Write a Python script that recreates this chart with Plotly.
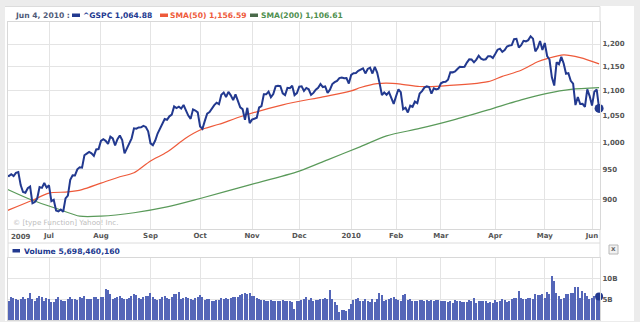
import pandas as pd
import plotly.graph_objects as go

W, H = 640, 322

# ---------------------------------------------------------------- data
market_holidays = ["2009-07-03", "2009-09-07", "2009-11-26", "2009-12-25",
                   "2010-01-01", "2010-01-18", "2010-02-15", "2010-04-02",
                   "2010-05-31"]
sessions = pd.bdate_range("2009-06-04", "2010-06-04")
sessions = sessions[~sessions.isin(pd.to_datetime(market_holidays))]

close_2009_06 = [942.46, 940.09, 939.14, 942.43, 939.15, 944.89, 946.21, 923.72, 911.97, 910.71,
                 918.37, 921.23, 893.04, 895.10, 900.94, 920.26, 918.90, 927.23, 919.32]
close_2009_07 = [923.33, 896.42, 898.72, 881.03, 879.56, 882.68, 879.13, 901.05, 905.84, 932.68,
                 940.74, 940.38, 951.13, 954.58, 954.07, 976.29, 979.26, 982.18, 979.62, 975.15,
                 986.75, 987.48]
close_2009_08 = [1002.63, 1005.65, 1002.72, 997.08, 1010.48, 1007.10, 994.35, 1005.81, 1012.73,
                 1004.09, 979.73, 989.67, 996.46, 1007.37, 1026.13, 1025.57, 1028.00, 1028.12,
                 1030.98, 1028.93, 1020.62]
close_2009_09 = [998.04, 994.75, 1003.24, 1016.40, 1025.39, 1033.37, 1044.14, 1042.73, 1049.34,
                 1052.63, 1068.76, 1065.49, 1068.30, 1064.66, 1071.66, 1060.87, 1050.78, 1044.38,
                 1062.98, 1060.61, 1057.08]
close_2009_10 = [1029.85, 1025.21, 1040.46, 1054.72, 1057.58, 1065.48, 1071.49, 1076.19, 1073.19,
                 1092.02, 1096.56, 1087.68, 1097.91, 1091.06, 1081.40, 1092.91, 1079.60, 1066.95,
                 1063.41, 1042.63, 1066.11, 1036.19]
close_2009_11 = [1042.88, 1045.41, 1046.50, 1066.63, 1069.30, 1093.08, 1093.01, 1098.51, 1087.24,
                 1093.48, 1109.30, 1110.32, 1109.80, 1094.90, 1091.38, 1106.24, 1105.65, 1110.63,
                 1091.49, 1095.63]
close_2009_12 = [1108.86, 1109.24, 1099.92, 1105.98, 1103.25, 1091.94, 1095.95, 1102.35, 1106.41,
                 1114.11, 1107.93, 1109.18, 1096.08, 1102.47, 1114.05, 1118.02, 1120.59, 1126.48,
                 1127.78, 1126.20, 1126.42, 1115.10]
close_2010_01 = [1132.99, 1136.52, 1137.14, 1141.69, 1144.98, 1146.98, 1136.22, 1145.68, 1148.46,
                 1136.03, 1150.23, 1138.04, 1116.48, 1091.76, 1096.78, 1092.17, 1097.50, 1084.53,
                 1073.87]
close_2010_02 = [1089.19, 1103.32, 1097.28, 1063.11, 1066.19, 1056.74, 1070.52, 1068.13, 1078.47,
                 1075.51, 1094.87, 1099.51, 1106.75, 1109.17, 1108.01, 1094.60, 1105.24, 1102.94,
                 1104.49]
close_2010_03 = [1115.71, 1118.31, 1118.79, 1122.97, 1138.70, 1138.50, 1140.45, 1145.61, 1150.24,
                 1149.99, 1150.51, 1159.46, 1166.21, 1165.83, 1159.90, 1165.81, 1174.17, 1167.72,
                 1165.73, 1166.59, 1173.22, 1173.27, 1169.43]
close_2010_04 = [1178.10, 1187.44, 1189.44, 1182.45, 1186.44, 1194.37, 1196.48, 1197.30, 1210.65,
                 1211.67, 1192.13, 1197.52, 1207.17, 1205.94, 1208.67, 1217.28, 1212.05, 1183.71,
                 1191.36, 1206.78, 1186.69]
close_2010_05 = [1202.26, 1173.60, 1165.90, 1128.15, 1110.88, 1159.73, 1155.79, 1171.67, 1157.44,
                 1135.68, 1136.94, 1120.80, 1115.05, 1071.59, 1087.69, 1073.65, 1074.03, 1067.95,
                 1103.06, 1089.41]
close_2010_06 = [1070.71, 1098.38, 1102.83, 1064.88]

# daily volume, billions of shares
vol_2009_06 = [5.4, 4.9, 4.5, 5.6, 5.3, 5.1, 4.8, 5.2, 5.6, 5.0, 5.4, 6.5, 5.0, 4.6, 5.4, 5.9, 5.5, 4.6, 5.3]
vol_2009_07 = [5.0, 4.3, 4.4, 5.2, 5.6, 4.8, 4.7, 4.6, 5.0, 5.5, 5.1, 5.0, 4.9, 5.5, 5.4, 5.8, 5.1,
               5.0, 5.2, 5.6, 5.5, 5.1]
vol_2009_08 = [5.6, 5.6, 7.6, 7.3, 6.4, 5.1, 5.3, 5.6, 5.9, 5.3, 5.2, 5.0, 5.4, 5.7, 6.2, 6.0, 5.3,
               5.2, 5.5, 5.9, 5.8]
vol_2009_09 = [6.5, 5.5, 5.2, 4.9, 5.2, 5.6, 5.8, 5.3, 5.0, 5.6, 6.4, 6.2, 6.8, 5.2, 5.4, 5.6, 5.3,
               5.0, 4.8, 5.3, 5.6]
vol_2009_10 = [6.0, 5.6, 4.9, 5.1, 5.0, 4.7, 4.6, 4.9, 4.8, 5.3, 5.2, 5.4, 5.0, 5.3, 5.6, 5.5, 5.6,
               6.1, 6.3, 6.6, 6.4, 6.5]
vol_2009_11 = [5.8, 5.8, 5.4, 5.2, 4.9, 4.8, 4.7, 4.6, 4.8, 4.5, 4.7, 4.6, 4.7, 4.9, 4.6, 4.5, 4.6,
               4.3, 2.7, 4.5]
vol_2009_12 = [4.6, 4.9, 5.2, 5.6, 4.8, 5.4, 4.6, 4.8, 4.9, 5.0, 5.2, 5.4, 5.1, 7.2, 5.0, 4.4, 3.6,
               2.0, 2.3, 2.4, 2.1, 2.6]
vol_2010_01 = [3.9, 4.9, 5.0, 5.3, 4.6, 4.6, 5.0, 4.5, 4.3, 5.0, 4.3, 5.2, 6.6, 6.0, 4.6, 4.8, 5.1,
               5.4, 5.5]
vol_2010_02 = [5.1, 4.8, 4.7, 6.0, 6.3, 4.8, 5.0, 4.6, 4.7, 4.5, 4.9, 4.8, 4.6, 4.8, 4.5, 4.8, 4.6,
               4.8, 4.9]
vol_2010_03 = [4.6, 4.6, 4.5, 4.4, 4.6, 4.1, 4.9, 4.6, 4.5, 4.3, 4.3, 4.4, 4.8, 4.6, 5.4, 4.2, 4.6,
               4.7, 4.6, 4.7, 4.2, 4.3, 4.2]
vol_2010_04 = [4.9, 4.3, 4.7, 5.0, 4.8, 4.4, 4.7, 5.0, 5.4, 5.4, 7.1, 5.4, 5.1, 5.1, 5.4, 5.3, 5.0,
               6.2, 6.1, 6.0, 6.3]
vol_2010_05 = [5.4, 6.8, 6.4, 10.6, 9.4, 6.6, 5.8, 5.2, 5.3, 6.2, 6.4, 6.6, 6.6, 8.0, 8.1, 5.4, 7.0,
               6.5, 5.9, 5.0]
vol_2010_06 = [5.3, 5.9, 5.8, 5.69846016]

# moving averages, sampled by session date
sma50_dates = ["2009-06-04", "2009-06-22", "2009-07-01", "2009-07-14", "2009-07-22", "2009-08-03",
               "2009-08-13", "2009-08-21", "2009-09-01", "2009-09-11", "2009-09-23", "2009-10-01",
               "2009-10-13", "2009-10-27", "2009-11-19", "2009-12-15", "2010-01-04", "2010-01-08",
               "2010-01-20", "2010-01-26", "2010-02-03", "2010-02-16", "2010-03-01", "2010-03-29",
               "2010-04-07", "2010-04-19", "2010-04-28", "2010-05-04", "2010-05-13", "2010-05-24",
               "2010-06-04"]
sma50_vals = [879, 898, 910, 912, 916, 927, 938, 945, 966, 982, 1008, 1023, 1034, 1050, 1072, 1088,
              1100, 1107, 1115, 1116, 1114, 1109, 1110, 1119, 1130, 1143, 1161, 1168, 1176, 1170,
              1156.59]
sma200_dates = ["2009-06-04", "2009-06-22", "2009-07-09", "2009-07-21", "2009-08-03", "2009-08-21",
                "2009-09-11", "2009-10-01", "2009-10-30", "2009-12-01", "2009-12-17", "2010-01-08",
                "2010-01-26", "2010-02-16", "2010-03-08", "2010-03-29", "2010-04-19", "2010-05-04",
                "2010-05-18", "2010-06-04"]
sma200_vals = [919, 898, 882, 872, 872, 877.5, 887, 901, 924, 948, 968, 992, 1012, 1026, 1042, 1062,
               1082, 1095, 1103, 1106.61]

price_ticks = [900, 950, 1000, 1050, 1100, 1150, 1200]
price_tick_text = ["900", "950", "1,000", "1,050", "1,100", "1,150", "1,200"]
month_text = ["Jul", "Aug", "Sep", "Oct", "Nov", "Dec", "2010", "Feb", "Mar", "Apr", "May", "Jun"]

closes = (close_2009_06 + close_2009_07 + close_2009_08 + close_2009_09 + close_2009_10 +
          close_2009_11 + close_2009_12 + close_2010_01 + close_2010_02 + close_2010_03 +
          close_2010_04 + close_2010_05 + close_2010_06)
volumes = [v * 1e9 for v in (vol_2009_06 + vol_2009_07 + vol_2009_08 + vol_2009_09 + vol_2009_10 +
                             vol_2009_11 + vol_2009_12 + vol_2010_01 + vol_2010_02 + vol_2010_03 +
                             vol_2010_04 + vol_2010_05 + vol_2010_06)]
assert len(closes) == len(sessions) == len(volumes)

# sessions are plotted on a trading-day index so gaps do not show
idx = list(range(len(sessions)))
pos = {d.strftime("%Y-%m-%d"): i for i, d in enumerate(sessions)}
month_starts = [i for i in idx[1:] if sessions[i].month != sessions[i - 1].month]
last = idx[-1]

# ---------------------------------------------------------------- styling
NAVY = "#22398f"
RED = "#ee5a3a"
GREEN = "#5a9a5a"
GRID = "#e4e4e4"
FONT = "DejaVu Sans"


def px(x):
    return x / W


def py(y):
    return 1 - y / H


fig = go.Figure()

fig.add_trace(go.Scatter(x=[pos[d] for d in sma200_dates], y=sma200_vals, mode="lines",
                         line=dict(color=GREEN, width=1.2, shape="spline", smoothing=0.8),
                         xaxis="x", yaxis="y", hoverinfo="skip"))
fig.add_trace(go.Scatter(x=[pos[d] for d in sma50_dates], y=sma50_vals, mode="lines",
                         line=dict(color=RED, width=1.2, shape="spline", smoothing=0.8),
                         xaxis="x", yaxis="y", hoverinfo="skip"))
fig.add_trace(go.Scatter(x=idx, y=closes, mode="lines", line=dict(color=NAVY, width=2),
                         xaxis="x", yaxis="y"))
fig.add_trace(go.Scatter(x=[last], y=[closes[-1]], mode="markers", cliponaxis=False,
                         marker=dict(color=NAVY, size=9), xaxis="x", yaxis="y"))

fig.add_trace(go.Bar(x=idx, y=volumes, width=0.55, marker=dict(color="#5466b8", line_width=0),
                     xaxis="x2", yaxis="y2"))
fig.add_trace(go.Scatter(x=[last], y=[volumes[-1]], mode="markers", cliponaxis=False,
                         marker=dict(color=NAVY, size=8), xaxis="x2", yaxis="y2"))

x_lo = month_starts[0] - (49 - 8) * (month_starts[-1] - month_starts[0]) / (592 - 49)
x_hi = month_starts[0] + (600 - 49) * (month_starts[-1] - month_starts[0]) / (592 - 49)
log_lo, log_hi = 2.93014, 3.09691

axis_font = dict(family=FONT, size=7, color="#555555", weight="bold")
xcommon = dict(range=[x_lo, x_hi], domain=[px(8), px(600)], showgrid=False, zeroline=False,
               tickvals=month_starts, ticktext=month_text, ticks="",
               minor=dict(tickvals=month_starts, showgrid=True, gridcolor=GRID, gridwidth=1),
               showline=True, linecolor="#d8d8d8", mirror=True, fixedrange=True)

fig.update_layout(
    width=W, height=H, margin=dict(l=0, r=0, t=0, b=0),
    paper_bgcolor="#ececec", plot_bgcolor="white", showlegend=False,
    xaxis=dict(**xcommon, showticklabels=True, tickfont=axis_font, anchor="y"),
    yaxis=dict(type="log", range=[log_lo, log_hi], domain=[py(229), py(22)], side="right",
               tickvals=price_ticks, ticktext=price_tick_text, ticks="", tickfont=axis_font,
               showgrid=True, gridcolor=GRID, zeroline=False, showline=True,
               linecolor="#d8d8d8", mirror=True, anchor="x"),
    xaxis2=dict(**xcommon, showticklabels=False, anchor="y2"),
    yaxis2=dict(range=[0, 15.0e9], domain=[py(320), py(258)], side="right",
                tickvals=[5e9, 10e9], ticktext=["5B", "10B"], ticks="", tickfont=axis_font,
                showgrid=True, gridcolor=GRID, zeroline=False, showline=True,
                linecolor="#d8d8d8", mirror=True, anchor="x2"),
    bargap=0,
)

shapes = [
    # white chart card
    dict(type="rect", xref="paper", yref="paper", x0=px(5), x1=px(634), y0=py(321), y1=py(6),
         fillcolor="white", line_width=0, layer="below"),
    # header strip frame
    dict(type="line", xref="paper", yref="paper", x0=px(5), x1=px(600), y0=py(6.5), y1=py(6.5),
         line=dict(color="#dcdcdc", width=1)),
    dict(type="line", xref="paper", yref="paper", x0=px(600), x1=px(600), y0=py(6.5), y1=py(22),
         line=dict(color="#dcdcdc", width=1)),
    # strip below the month labels and volume header
    dict(type="line", xref="paper", yref="paper", x0=px(8), x1=px(600), y0=py(243), y1=py(243),
         line=dict(color="#dcdcdc", width=1)),
    dict(type="line", xref="paper", yref="paper", x0=px(8), x1=px(8), y0=py(229), y1=py(258),
         line=dict(color="#dcdcdc", width=1)),
    dict(type="line", xref="paper", yref="paper", x0=px(600), x1=px(600), y0=py(229), y1=py(258),
         line=dict(color="#dcdcdc", width=1)),
    # legend swatches
    dict(type="rect", xref="paper", yref="paper", x0=px(72), x1=px(80), y0=py(17), y1=py(13.5),
         fillcolor=NAVY, line_width=0),
    dict(type="rect", xref="paper", yref="paper", x0=px(160), x1=px(168), y0=py(17), y1=py(13.5),
         fillcolor=RED, line_width=0),
    dict(type="rect", xref="paper", yref="paper", x0=px(250), x1=px(258), y0=py(17), y1=py(13.5),
         fillcolor="#4a6a4a", line_width=0),
    dict(type="rect", xref="paper", yref="paper", x0=px(12.5), x1=px(20), y0=py(252.5), y1=py(249),
         fillcolor=NAVY, line_width=0),
    # close box
    dict(type="rect", xref="paper", yref="paper", x0=px(609), x1=px(618), y0=py(254), y1=py(245),
         fillcolor="#f2f2f2", line=dict(color="#b8b8b8", width=1)),
]


def note(text, x, y, color, size=7.6, weight="bold", xanchor="left"):
    return dict(text=text, xref="paper", yref="paper", x=px(x), y=py(y), xanchor=xanchor,
                yanchor="middle", showarrow=False,
                font=dict(family=FONT, size=size, color=color, weight=weight))


annotations = [
    note("Jun 4, 2010 :", 13, 15.5, "#4f5a78"),
    note("^GSPC 1,064.88", 81, 15.5, NAVY),
    note("SMA(50) 1,156.59", 168, 15.5, RED),
    note("SMA(200) 1,106.61", 259, 15.5, "#4f8f4f"),
    note("Volume 5,698,460,160", 22, 251, NAVY),
    note("2009", 9, 237, "#555555", size=7),
    note("© [type Function] Yahoo! Inc.", 11, 222.5, "#bdbdbd", size=7.2, weight="normal"),
    note("x", 613.5, 249, "#666666", size=7, xanchor="center"),
]

fig.update_layout(shapes=shapes, annotations=annotations)
fig.write_html("out.html")
